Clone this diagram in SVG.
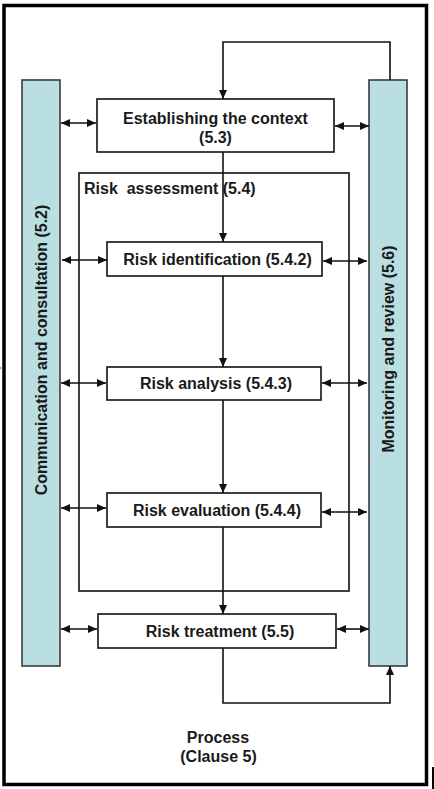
<svg xmlns="http://www.w3.org/2000/svg" width="434" height="789" viewBox="0 0 434 789">
<style>
.box{fill:#fff;stroke:#111;stroke-width:1.6}
.bar{fill:#BADFE3;stroke:#3a3a3a;stroke-width:1.6}
.t{font-family:"Liberation Sans",Arial,sans-serif;font-weight:bold;font-size:16px;fill:#1a1a1a}
.c{stroke:#111;stroke-width:1.6;fill:none}
.a{marker-end:url(#ah)}
.d{marker-start:url(#ah);marker-end:url(#ah)}
</style>
<defs>
<marker id="ah" markerUnits="userSpaceOnUse" markerWidth="9" markerHeight="8" refX="9" refY="4" orient="auto-start-reverse">
<path d="M0,0 L9,4 L0,8 z" fill="#111"/>
</marker>
</defs>
<rect x="4" y="5.5" width="422.5" height="779" fill="#fff" stroke="#000" stroke-width="3.5"/>
<line x1="433" y1="767" x2="433" y2="789" stroke="#000" stroke-width="2"/>
<line x1="0" y1="368" x2="3" y2="368" stroke="#666" stroke-width="1"/>

<g id="communication">
<rect class="bar" x="22" y="80" width="38" height="586"/>
<text class="t" transform="translate(41,350) rotate(-90)" y="5.7" text-anchor="middle">Communication and consultation (5.2)</text>
</g>
<g id="monitoring">
<rect class="bar" x="369" y="80" width="38" height="586"/>
<text class="t" transform="translate(388,349) rotate(-90)" y="5.7" text-anchor="middle">Monitoring and review (5.6)</text>
</g>
<g id="risk-assessment">
<rect x="79" y="173" width="270" height="418" fill="none" stroke="#111" stroke-width="1.6"/>
<text class="t" x="84" y="194" xml:space="preserve">Risk  assessment (5.4)</text>
</g>

<g id="connectors">
<path class="c a" d="M390,80 V42 H223 V99"/>
<path class="c a" d="M223,152 V242"/>
<path class="c a" d="M223,276 V367"/>
<path class="c a" d="M223,400 V493"/>
<path class="c a" d="M223,527 V614"/>
<path class="c a" d="M223,648 V703 H390 V666"/>
<line class="c d" x1="61" y1="123" x2="96" y2="123"/>
<line class="c d" x1="335" y1="126" x2="369" y2="126"/>
<line class="c d" x1="62" y1="260" x2="107" y2="260"/>
<line class="c d" x1="323" y1="261" x2="367" y2="261"/>
<line class="c d" x1="61" y1="383" x2="106" y2="383"/>
<line class="c d" x1="322" y1="383" x2="367" y2="383"/>
<line class="c d" x1="61" y1="508" x2="106" y2="508"/>
<line class="c d" x1="322" y1="512" x2="367" y2="512"/>
<line class="c d" x1="61" y1="629" x2="97" y2="629"/>
<line class="c d" x1="337" y1="629" x2="369" y2="629"/>
</g>

<g id="establishing">
<rect class="box" x="97" y="99" width="237" height="53"/>
<text class="t" x="215.5" y="123.5" text-anchor="middle">Establishing the context</text>
<text class="t" x="215.5" y="142.5" text-anchor="middle">(5.3)</text>
</g>
<g id="identification">
<rect class="box" x="107" y="242" width="215" height="34"/>
<text class="t" x="217.5" y="264.5" text-anchor="middle">Risk identification (5.4.2)</text>
</g>
<g id="analysis">
<rect class="box" x="107" y="367" width="214" height="33"/>
<text class="t" x="216" y="389" text-anchor="middle">Risk analysis (5.4.3)</text>
</g>
<g id="evaluation">
<rect class="box" x="107" y="493" width="214" height="34"/>
<text class="t" x="217" y="515.5" text-anchor="middle">Risk evaluation (5.4.4)</text>
</g>
<g id="treatment">
<rect class="box" x="98" y="614" width="238" height="34"/>
<text class="t" x="220" y="636.5" text-anchor="middle">Risk treatment (5.5)</text>
</g>
<g id="process">
<text class="t" x="218" y="743" text-anchor="middle">Process</text>
<text class="t" x="218.5" y="762" text-anchor="middle">(Clause 5)</text>
</g>
</svg>
